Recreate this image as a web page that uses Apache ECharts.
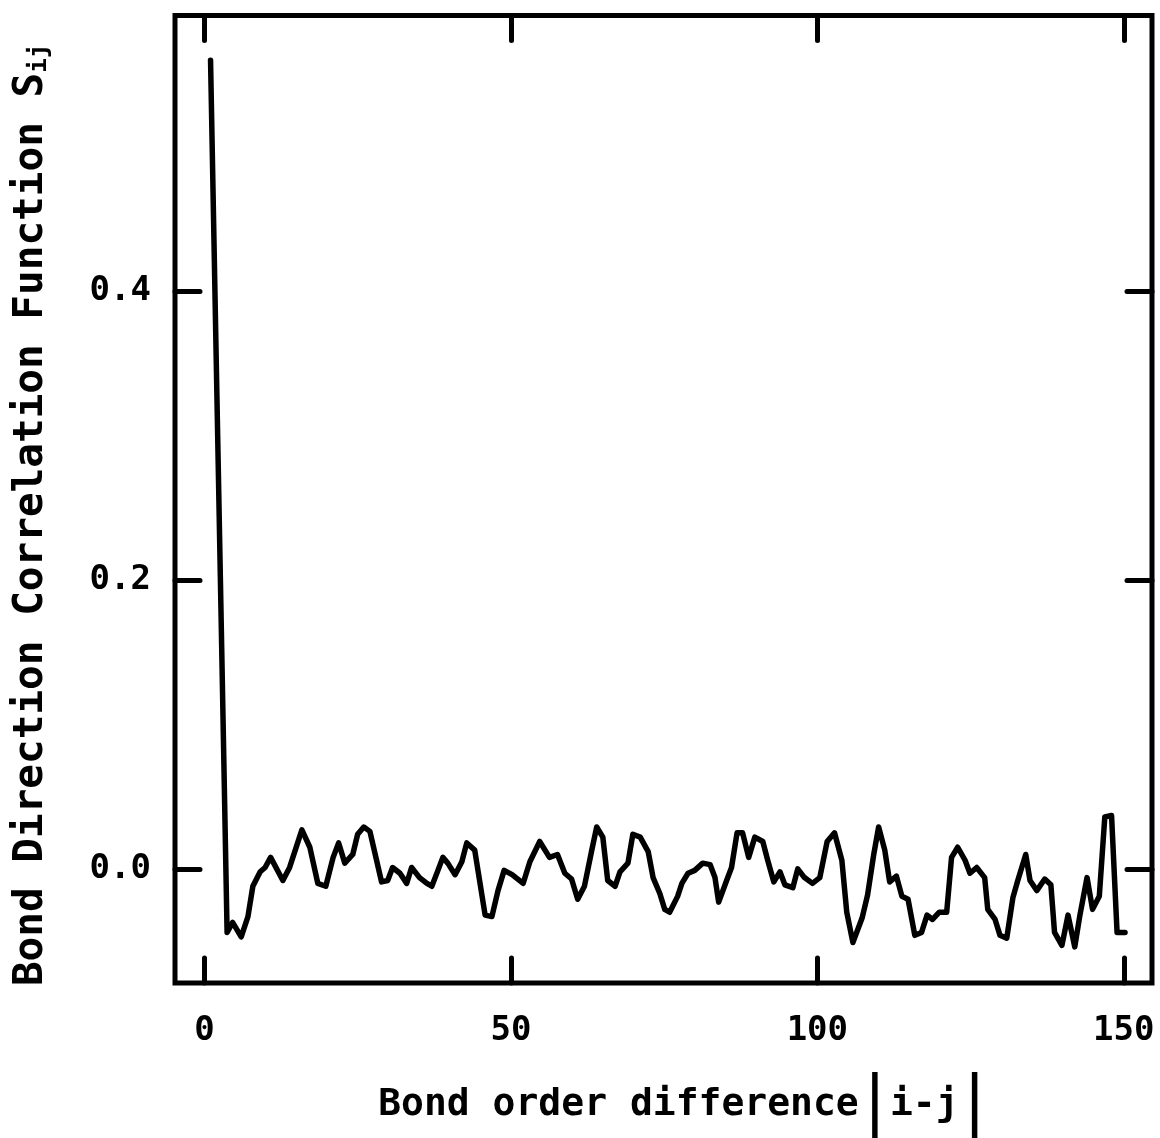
<!DOCTYPE html>
<html>
<head>
<meta charset="utf-8">
<script src="https://cdn.jsdelivr.net/npm/echarts@6/dist/echarts.min.js"></script>
<style>html,body{margin:0;padding:0;background:#fff}#c{width:1160px;height:1138px}</style>
</head>
<body>
<div id="c"></div>
<script>
// Bond order difference |i-j|
const xValues = [1, 3.7, 4.6, 6.0, 7.1, 7.9, 9.1, 9.9, 10.8, 12.8, 13.9, 15.9, 17.2, 18.5, 19.8, 21.0, 21.9, 22.9, 24.2, 25.0, 26.0, 27.0, 28.9, 29.9, 30.7, 31.9, 33.0, 33.8, 35.1, 36.3, 37.1, 38.1, 38.9, 39.7, 40.9, 42.0, 42.8, 44.1, 45.8, 46.9, 47.9, 48.9, 50.2, 52.0, 53.1, 54.7, 56.3, 57.6, 58.8, 59.9, 60.9, 62.0, 63.2, 64.0, 65.0, 65.8, 67.0, 67.8, 69.1, 69.9, 71.1, 72.4, 73.2, 74.3, 75.1, 75.9, 77.2, 77.9, 78.9, 80.0, 81.3, 82.5, 83.3, 83.9, 85.2, 86.0, 86.9, 87.8, 88.8, 89.8, 91.1, 91.9, 92.9, 93.9, 94.7, 96.0, 96.8, 97.9, 99.2, 100.4, 101.6, 102.8, 104.0, 104.8, 105.8, 107.3, 108.2, 109.2, 110.0, 111.0, 111.8, 112.9, 113.8, 114.8, 115.9, 117.0, 117.9, 118.8, 119.9, 121.1, 121.9, 122.9, 124.1, 124.9, 126.0, 127.3, 127.8, 129.0, 129.8, 130.9, 131.9, 132.7, 134.0, 134.7, 135.8, 137.1, 138.1, 138.7, 139.9, 140.9, 142.0, 142.8, 144.0, 144.9, 146.0, 146.9, 148.0, 148.9, 150.2];
// Bond direction correlation function S_ij
const sValues = [0.560, -0.044, -0.037, -0.047, -0.033, -0.012, -0.002, 0.001, 0.008, -0.008, 0.001, 0.027, 0.015, -0.010, -0.012, 0.008, 0.018, 0.004, 0.010, 0.024, 0.029, 0.026, -0.009, -0.008, 0.001, -0.003, -0.010, 0.001, -0.006, -0.010, -0.012, -0.001, 0.008, 0.004, -0.004, 0.005, 0.018, 0.013, -0.032, -0.033, -0.015, -0.001, -0.004, -0.010, 0.005, 0.019, 0.008, 0.010, -0.003, -0.007, -0.021, -0.012, 0.013, 0.029, 0.022, -0.008, -0.012, -0.002, 0.004, 0.024, 0.022, 0.012, -0.006, -0.017, -0.028, -0.030, -0.019, -0.010, -0.003, -0.001, 0.004, 0.003, -0.006, -0.023, -0.008, 0.001, 0.025, 0.025, 0.008, 0.022, 0.019, 0.006, -0.009, -0.002, -0.011, -0.013, 0.000, -0.006, -0.010, -0.006, 0.019, 0.025, 0.006, -0.030, -0.051, -0.034, -0.018, 0.010, 0.029, 0.013, -0.009, -0.005, -0.019, -0.021, -0.046, -0.044, -0.032, -0.035, -0.030, -0.030, 0.008, 0.015, 0.006, -0.003, 0.001, -0.006, -0.028, -0.035, -0.046, -0.048, -0.020, -0.008, 0.010, -0.008, -0.015, -0.007, -0.011, -0.044, -0.053, -0.032, -0.054, -0.033, -0.006, -0.028, -0.019, 0.036, 0.037, -0.044, -0.044];
const xTicks = [0, 50, 100, 150];
const yTicks = [0, 0.2, 0.4];

const FONT = '"DejaVu Sans Mono", monospace';
const data = xValues.map((x, i) => [x, sValues[i]]);

const chart = echarts.init(document.getElementById('c'));
const tickStyle = { show: true, inside: true, length: 25, lineStyle: { color: '#000', width: 5, cap: 'round' } };
const labelStyle = { color: '#000', fontFamily: FONT, fontWeight: 'bold', fontSize: 34 };
const X_MIN = -4.8, X_MAX = 154.6, Y_MIN = -0.079, Y_MAX = 0.591;
const noLine = { show: false, onZero: false };

chart.setOption({
  backgroundColor: '#fff',
  animation: false,
  grid: { left: 175, right: 8, top: 15.5, bottom: 155, show: true, borderColor: '#000', borderWidth: 5, backgroundColor: 'transparent' },
  xAxis: [
    { type: 'value', position: 'bottom', min: X_MIN, max: X_MAX,
      axisLine: noLine, splitLine: { show: false },
      axisTick: Object.assign({ customValues: xTicks }, tickStyle),
      axisLabel: Object.assign({ customValues: xTicks, margin: 31 }, labelStyle) },
    { type: 'value', position: 'top', min: X_MIN, max: X_MAX,
      axisLine: noLine, splitLine: { show: false },
      axisTick: Object.assign({ customValues: xTicks }, tickStyle),
      axisLabel: { show: false } }
  ],
  yAxis: [
    { type: 'value', position: 'left', min: Y_MIN, max: Y_MAX,
      axisLine: noLine, splitLine: { show: false },
      axisTick: Object.assign({ customValues: yTicks }, tickStyle),
      axisLabel: Object.assign({ customValues: yTicks, margin: 24, formatter: v => v.toFixed(1) }, labelStyle) },
    { type: 'value', position: 'right', min: Y_MIN, max: Y_MAX,
      axisLine: noLine, splitLine: { show: false },
      axisTick: Object.assign({ customValues: yTicks }, tickStyle),
      axisLabel: { show: false } }
  ],
  graphic: [
    { type: 'text', x: 684, y: 1105,
      style: { text: 'Bond order difference{bar||}i-j{bar||}', align: 'center', verticalAlign: 'middle',
        fill: '#000', font: 'bold 38px ' + FONT,
        rich: { bar: { fontFamily: 'DejaVu Sans', fontSize: 66, fontWeight: 'normal', fill: '#000', padding: [0, 4, 0, 5] } } } },
    { type: 'text', x: 31, y: 515, rotation: Math.PI / 2,
      style: { text: 'Bond Direction Correlation Function S{sub|ij}', align: 'center', verticalAlign: 'middle',
        fill: '#000', font: 'bold 41px ' + FONT,
        rich: { sub: { fontFamily: FONT, fontSize: 24, fontWeight: 'bold', fill: '#000', padding: [18, 0, 0, 0] } } } }
  ],
  series: [{
    type: 'line', data: data, showSymbol: false, symbol: 'none',
    lineStyle: { color: '#000', width: 5.5, join: 'round', cap: 'round' },
    clip: true
  }]
});
</script>
</body>
</html>
